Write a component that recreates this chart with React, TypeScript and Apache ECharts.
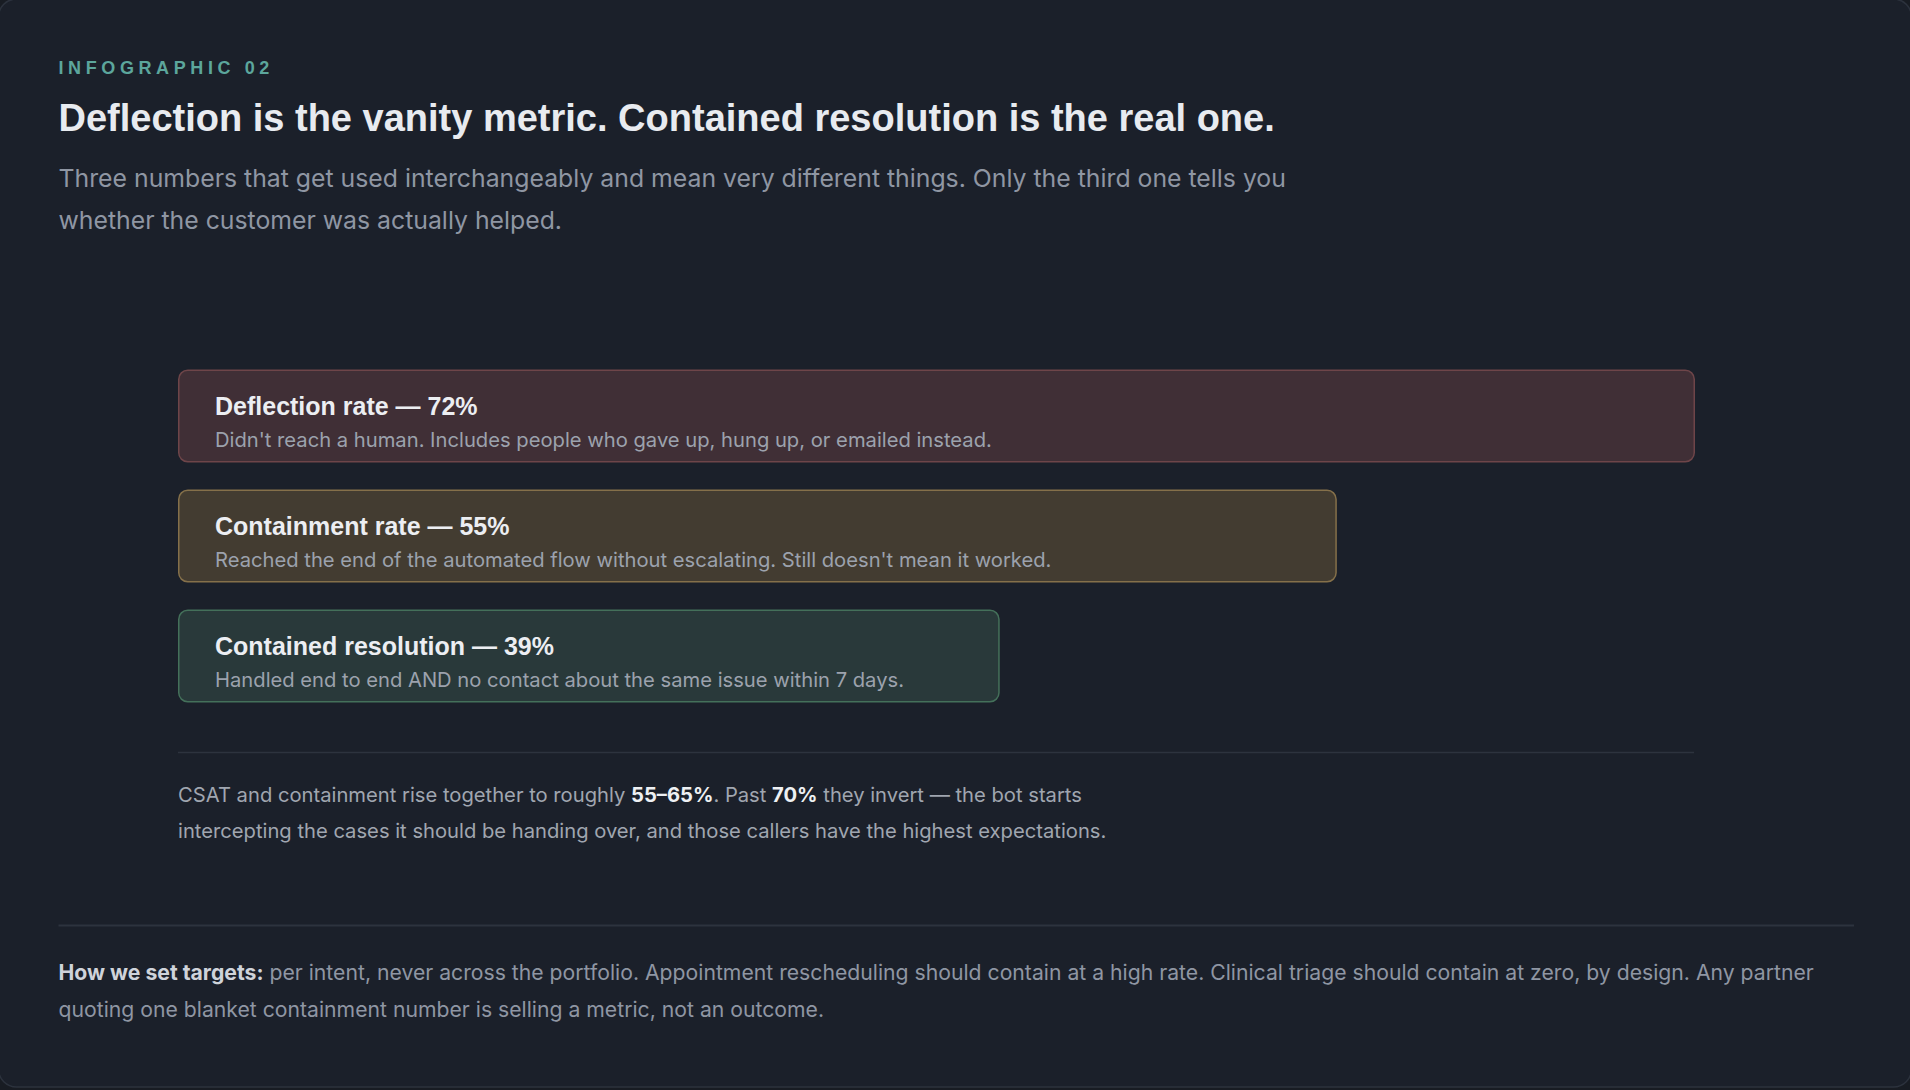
import React, { useEffect, useRef } from "react";
import * as echarts from "echarts";

const FONT = '"Liberation Sans", Arial, sans-serif';
const FONT_R = 'Inter, "Liberation Sans", sans-serif';

const categories = ["Deflection rate", "Containment rate", "Contained resolution"];
const values = [72, 55, 39];
const descriptions = [
  "Didn't reach a human. Includes people who gave up, hung up, or emailed instead.",
  "Reached the end of the automated flow without escalating. Still doesn't mean it worked.",
  "Handled end to end AND no contact about the same issue within 7 days.",
];
const fills = ["#402f36", "#433c31", "#29393a"];
const borders = ["#6e4549", "#85704a", "#44705a"];

const eyebrow = "INFOGRAPHIC 02";
const headline = "Deflection is the vanity metric. Contained resolution is the real one.";
const subtitleLines = [
  "Three numbers that get used interchangeably and mean very different things. Only the third one tells you",
  "whether the customer was actually helped.",
];
const noteSegments: [string, string][] = [
  ["a", "CSAT and containment rise together to roughly "],
  ["b", "55–65%"],
  ["a", ". Past "],
  ["b", "70%"],
  ["a", " they invert — the bot starts"],
  ["n", ""],
  ["a", "intercepting the cases it should be handing over, and those callers have the highest expectations."],
];
const footerSegments: [string, string][] = [
  ["b", "How we set targets:"],
  ["a", " per intent, never across the portfolio. Appointment rescheduling should contain at a high rate. Clinical triage should contain at zero, by design. Any partner"],
  ["n", ""],
  ["a", "quoting one blanket containment number is selling a metric, not an outcome."],
];

function richText(segs: [string, string][]) {
  return segs.map(([k, t]) => (k === "n" ? "\n" : `{${k}|${t}}`)).join("");
}

export default function App() {
  const ref = useRef<HTMLDivElement>(null);
  useEffect(() => {
    if (!ref.current) return;
    const chart = echarts.init(ref.current, undefined, { renderer: "svg" });
    const option: any = {
      animation: false,
      backgroundColor: "#181c23",
      textStyle: { fontFamily: FONT },
      grid: { left: 178, top: 356, width: 1517, height: 360 },
      xAxis: { type: "value", min: 0, max: 72, show: false },
      yAxis: { type: "category", data: categories, inverse: true, show: false },
      series: [
        {
          type: "bar",
          barWidth: 93,
          silent: true,
          z: 5,
          data: values.map((v, i) => ({
            value: v,
            itemStyle: {
              color: fills[i],
              borderColor: borders[i],
              borderWidth: 1.5,
              borderRadius: 9,
            },
          })),
          label: {
            show: true,
            position: "insideLeft",
            distance: 37,
            offset: [0, 6.5],
            formatter: (p: any) =>
              `{t|${p.name} — ${p.value}%}\n{s|${descriptions[p.dataIndex]}}`,
            rich: {
              t: {
                fontFamily: FONT,
                fontSize: 25,
                fontWeight: "bold",
                color: "#eceef2",
                lineHeight: 34,
              },
              s: {
                fontFamily: FONT_R,
                fontSize: 20.2,
                color: "#9ca2ad",
                lineHeight: 34,
              },
            },
          },
        },
      ],
      graphic: [
        {
          type: "rect",
          z: -10,
          shape: { x: -1.5, y: -1, width: 1913, height: 1088, r: 18 },
          style: { fill: "#1b202a", stroke: "#2c323d", lineWidth: 1.5 },
        },
        {
          type: "text",
          z: 10,
          x: 58.5,
          y: 68,
          style: {
            text: eyebrow,
            fill: "#5ca69c",
            fontFamily: FONT,
            fontSize: 18,
            fontWeight: "bold",
            verticalAlign: "middle",
          },
        },
        {
          type: "text",
          z: 10,
          x: 58.5,
          y: 118,
          style: {
            text: headline,
            fill: "#e8ebf0",
            fontFamily: FONT,
            fontSize: 38,
            fontWeight: "bold",
            verticalAlign: "middle",
          },
        },
        {
          type: "text",
          z: 10,
          x: 58.5,
          y: 156.5,
          style: {
            text: subtitleLines.join("\n"),
            fill: "#8f96a3",
            fontFamily: FONT_R,
            fontSize: 24.8,
            lineHeight: 42.6,
            verticalAlign: "top",
          },
        },
        {
          type: "line",
          z: 10,
          shape: { x1: 178, y1: 752.5, x2: 1694, y2: 752.5 },
          style: { stroke: "#2d333e", lineWidth: 1.5 },
        },
        {
          type: "text",
          z: 10,
          x: 178,
          y: 776.5,
          style: {
            text: richText(noteSegments),
            verticalAlign: "top",
            rich: {
              a: { fontFamily: FONT_R, fontSize: 20.2, fill: "#a0a6b0", lineHeight: 36 },
              b: { fontFamily: FONT_R, fontSize: 20.2, fontWeight: 700, fill: "#eef0f3", lineHeight: 36 },
            },
          },
        },
        {
          type: "line",
          z: 10,
          shape: { x1: 58.5, y1: 925.5, x2: 1854, y2: 925.5 },
          style: { stroke: "#2d333e", lineWidth: 2 },
        },
        {
          type: "text",
          z: 10,
          x: 58.5,
          y: 953.5,
          style: {
            text: richText(footerSegments),
            verticalAlign: "top",
            rich: {
              a: { fontFamily: FONT_R, fontSize: 21.2, fill: "#8f96a3", lineHeight: 37 },
              b: { fontFamily: FONT_R, fontSize: 21.2, fontWeight: 700, fill: "#cfd3da", lineHeight: 37 },
            },
          },
        },
      ],
    };
    chart.setOption(option);
    return () => chart.dispose();
  }, []);
  return (
    <>
      <style>{'text[fill="#5ca69c"]{letter-spacing:4.6px}'}</style>
      <div
        ref={ref}
        style={{ position: "fixed", left: 0, top: 0, width: 1910, height: 1090 }}
      />
    </>
  );
}
